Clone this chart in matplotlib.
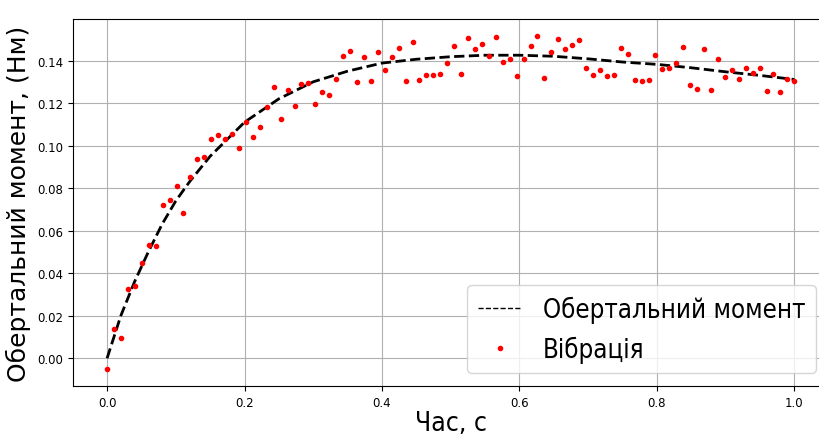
import numpy as np
import matplotlib
matplotlib.use("Agg")
import matplotlib.pyplot as plt

# measured points (100 samples on [0, 1])
vibration = [
    -0.0052, 0.0136, 0.0096, 0.0327, 0.0341, 0.0449, 0.0533, 0.0527, 0.0720, 0.0742,
    0.0808, 0.0683, 0.0850, 0.0935, 0.0947, 0.1033, 0.1050, 0.1033, 0.1056, 0.0991,
    0.1113, 0.1042, 0.1087, 0.1181, 0.1275, 0.1123, 0.1261, 0.1186, 0.1291, 0.1294,
    0.1195, 0.1253, 0.1237, 0.1312, 0.1420, 0.1444, 0.1298, 0.1416, 0.1303, 0.1439,
    0.1355, 0.1416, 0.1458, 0.1303, 0.1486, 0.1308, 0.1331, 0.1331, 0.1338, 0.1387,
    0.1467, 0.1336, 0.1505, 0.1453, 0.1480, 0.1420, 0.1509, 0.1391, 0.1405, 0.1326,
    0.1405, 0.1467, 0.1517, 0.1317, 0.1439, 0.1503, 0.1452, 0.1475, 0.1498, 0.1364,
    0.1331, 0.1355, 0.1326, 0.1333, 0.1458, 0.1430, 0.1308, 0.1303, 0.1308, 0.1425,
    0.1358, 0.1363, 0.1387, 0.1462, 0.1284, 0.1266, 0.1453, 0.1261, 0.1405, 0.1322,
    0.1355, 0.1312, 0.1364, 0.1341, 0.1364, 0.1256, 0.1338, 0.1251, 0.1312, 0.1303,
]
t_vib = np.linspace(0, 1, len(vibration))

# fitted torque curve
t_fit = [0.0, 0.02, 0.04, 0.06, 0.08, 0.10, 0.12, 0.15, 0.20, 0.25, 0.30, 0.35,
         0.40, 0.45, 0.50, 0.55, 0.60, 0.65, 0.70, 0.75, 0.80, 0.85, 0.90, 0.95, 1.0]
torque = [0.000, 0.020, 0.036, 0.050, 0.063, 0.074, 0.083, 0.095, 0.111, 0.122,
          0.130, 0.135, 0.1388, 0.1406, 0.1418, 0.1425, 0.1425, 0.1420, 0.1408,
          0.1393, 0.1382, 0.1366, 0.1347, 0.1330, 0.1311]

fig = plt.figure(figsize=(8.19, 4.39), dpi=100)
ax = fig.add_axes([0.0888, 0.1185, 0.923, 0.836])
ax.plot(t_fit, torque, 'k--', lw=2, label='Обертальний момент')
ax.plot(t_vib, vibration, 'r.', label='Вібрація')
ax.grid(True)
ax.tick_params(labelsize=8.5)
ax.set_xlabel('Час, с', fontsize=19, fontstretch='condensed', labelpad=1)
ax.set_ylabel('Обертальний момент, (Нм)', fontsize=18)
leg = ax.legend(loc='lower right', handlelength=1.75,
                prop={'size': 18.5, 'stretch': 'condensed'})
leg.get_lines()[0].set_linewidth(1.0)
fig.savefig("out.png", dpi=100)
